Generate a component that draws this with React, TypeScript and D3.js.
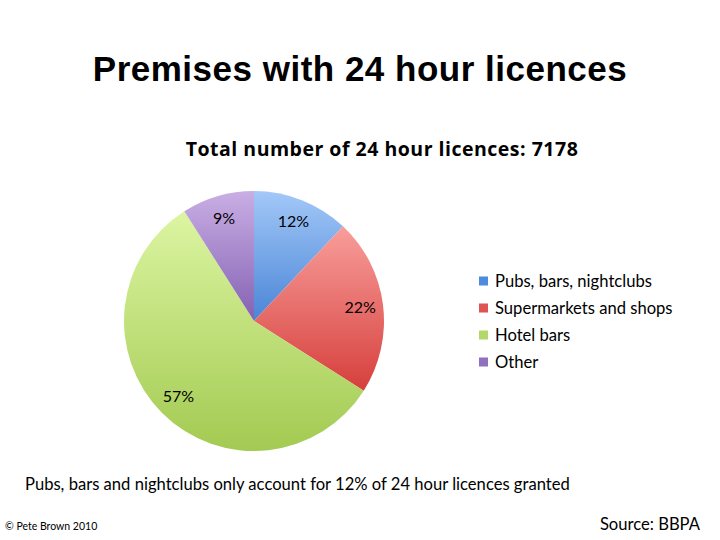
import React from "react";
import * as d3 from "d3";

const categories = ["Pubs, bars, nightclubs", "Supermarkets and shops", "Hotel bars", "Other"];
const values = [12, 22, 57, 9];
const labels = ["12%", "22%", "57%", "9%"];
const topColors = ["#A3C8F8", "#F89E9B", "#DCF5A2", "#C9AEE4"];
const bottomColors = ["#4A85D6", "#D63F3C", "#A3CA52", "#8461B3"];
const legendColors = ["#4F8BDC", "#DE5451", "#B3D86A", "#9071BD"];

export default function App() {
  const W = 720, H = 540;
  const cx = 254, cy = 321, r = 130;
  const pie = d3.pie<number>().sort(null).value((d) => d);
  const arcs = pie(values);
  const arc = d3.arc<d3.PieArcDatum<number>>().innerRadius(0).outerRadius(r);
  const labelArc = d3.arc<d3.PieArcDatum<number>>().innerRadius(107).outerRadius(107);
  const legendY = d3.scaleBand<number>().domain(d3.range(categories.length)).range([268, 376]);
  const font = "Lato, 'Open Sans', sans-serif";

  return (
    <svg width={W} height={H} style={{ position: "absolute", left: 0, top: 0, background: "#fff" }}>
      <defs>
        {arcs.map((a, i) => (
          <linearGradient key={i} id={`g${i}`} x1="0" y1="0" x2="0" y2="1" gradientUnits="objectBoundingBox">
            <stop offset="0" stopColor={topColors[i]} />
            <stop offset="1" stopColor={bottomColors[i]} />
          </linearGradient>
        ))}
      </defs>
      <text x={360} y={81} textAnchor="middle" fontFamily="'Liberation Sans', Arial, sans-serif" fontWeight="bold" fontSize={35} letterSpacing={0.5} fill="#000">
        Premises with 24 hour licences
      </text>
      <text x={382} y={156} textAnchor="middle" fontFamily="'Open Sans', sans-serif" fontWeight="bold" fontSize={19.5} letterSpacing={0.5} fill="#000">
        Total number of 24 hour licences: 7178
      </text>
      <g transform={`translate(${cx},${cy})`}>
        {arcs.map((a, i) => (
          <path key={i} d={arc(a) || ""} fill={`url(#g${i})`} />
        ))}
        {arcs.map((a, i) => {
          const [x, y] = labelArc.centroid(a);
          return (
            <text key={i} x={x} y={y} dy="0.35em" textAnchor="middle" fontFamily={font} fontSize={16} fill="#000">
              {labels[i]}
            </text>
          );
        })}
      </g>
      {categories.map((c, i) => {
        const y = (legendY(i) || 0) + legendY.bandwidth() / 2;
        return (
          <g key={c}>
            <rect x={479} y={y - 5} width={9} height={9} fill={legendColors[i]} />
            <text x={495} y={y} dy="0.35em" fontFamily={font} fontSize={16.6} fill="#000">
              {c}
            </text>
          </g>
        );
      })}
      <text x={25} y={490} fontFamily={font} fontSize={16.6} fill="#000">
        Pubs, bars and nightclubs only account for 12% of 24 hour licences granted
      </text>
      <text x={5} y={530} fontFamily={font} fontSize={10.5} fill="#000">
        © Pete Brown 2010
      </text>
      <text x={700} y={530} textAnchor="end" fontFamily={font} fontSize={16.6} fill="#000">
        Source: BBPA
      </text>
    </svg>
  );
}
